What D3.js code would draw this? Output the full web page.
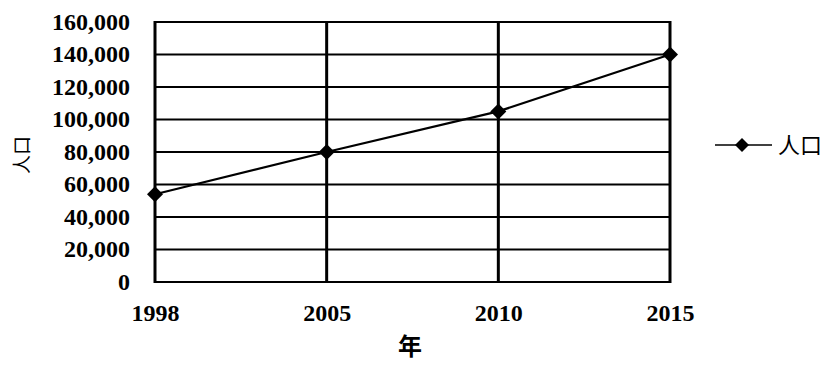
<!DOCTYPE html>
<html>
<head>
<meta charset="utf-8">
<script src="https://cdn.jsdelivr.net/npm/d3@7"></script>
<style>
  html, body { margin: 0; padding: 0; background: #fff; }
  svg { display: block; }
</style>
</head>
<body>
<script>
// Population by year
const years = ["1998", "2005", "2010", "2015"];
const population = [54000, 80000, 105000, 140000];
const yTicks = [0, 20000, 40000, 60000, 80000, 100000, 120000, 140000, 160000];
const seriesName = "人口";
const xTitle = "年";
const yTitle = "人口";

const W = 823, H = 367;
const plot = { left: 155, right: 670, top: 22, bottom: 282 };

const svg = d3.select("body").append("svg")
  .attr("width", W).attr("height", H);

const x = d3.scalePoint().domain(years).range([plot.left, plot.right]);
const y = d3.scaleLinear().domain([0, 160000]).range([plot.bottom, plot.top]);

const fmt = d3.format(",");
const numFont = "'Liberation Serif', 'Times New Roman', serif";
const cjkFont = "'Noto Sans CJK SC', 'Noto Sans CJK JP', sans-serif";

// horizontal gridlines
svg.append("g").selectAll("line").data(yTicks).join("line")
  .attr("x1", plot.left).attr("x2", plot.right)
  .attr("y1", d => y(d)).attr("y2", d => y(d))
  .attr("stroke", "#000").attr("stroke-width", 2);

// vertical gridlines at each year
svg.append("g").selectAll("line").data(years).join("line")
  .attr("x1", d => x(d)).attr("x2", d => x(d))
  .attr("y1", plot.top - 1).attr("y2", plot.bottom + 1)
  .attr("stroke", "#000").attr("stroke-width", 3);

// y axis labels
const yAxis = d3.axisLeft(y).tickValues(yTicks).tickFormat(fmt).tickSize(0).tickPadding(25);
const gy = svg.append("g").attr("transform", `translate(${plot.left},0)`).call(yAxis);
gy.select(".domain").remove();
gy.selectAll("text")
  .attr("font-family", numFont).attr("font-weight", "bold")
  .attr("font-size", 24).attr("fill", "#000").attr("dy", "0.3em");

// x axis labels
const xAxis = d3.axisBottom(x).tickSize(0).tickPadding(22);
const gx = svg.append("g").attr("transform", `translate(0,${plot.bottom})`).call(xAxis);
gx.select(".domain").remove();
gx.selectAll("text")
  .attr("font-family", numFont).attr("font-weight", "bold")
  .attr("font-size", 24).attr("fill", "#000");

// series line
const line = d3.line().x((d, i) => x(years[i])).y(d => y(d));
svg.append("path").datum(population)
  .attr("d", line).attr("fill", "none")
  .attr("stroke", "#000").attr("stroke-width", 2.2);

// diamond markers
const diamond = r => `M0,${-r}L${r},0L0,${r}L${-r},0Z`;
svg.append("g").selectAll("path").data(population).join("path")
  .attr("transform", (d, i) => `translate(${x(years[i])},${y(d)})`)
  .attr("d", diamond(8)).attr("fill", "#000");

// axis titles
svg.append("text")
  .attr("transform", "translate(29,155) rotate(-90)")
  .attr("text-anchor", "middle")
  .attr("font-family", cjkFont).attr("font-size", 19)
  .attr("fill", "#000").text(yTitle);

svg.append("text")
  .attr("x", 410).attr("y", 355)
  .attr("text-anchor", "middle")
  .attr("font-family", cjkFont).attr("font-weight", "bold").attr("font-size", 24)
  .attr("fill", "#000").text(xTitle);

// legend
const lg = svg.append("g").attr("transform", "translate(715,145)");
lg.append("line").attr("x1", 0).attr("x2", 57).attr("y1", 0).attr("y2", 0)
  .attr("stroke", "#000").attr("stroke-width", 1.5);
lg.append("path").attr("transform", "translate(27,0)").attr("d", diamond(7)).attr("fill", "#000");
lg.append("text").attr("x", 63).attr("y", 0).attr("dy", "0.36em")
  .attr("font-family", cjkFont).attr("font-size", 22)
  .attr("fill", "#000").text(seriesName);
</script>
</body>
</html>
